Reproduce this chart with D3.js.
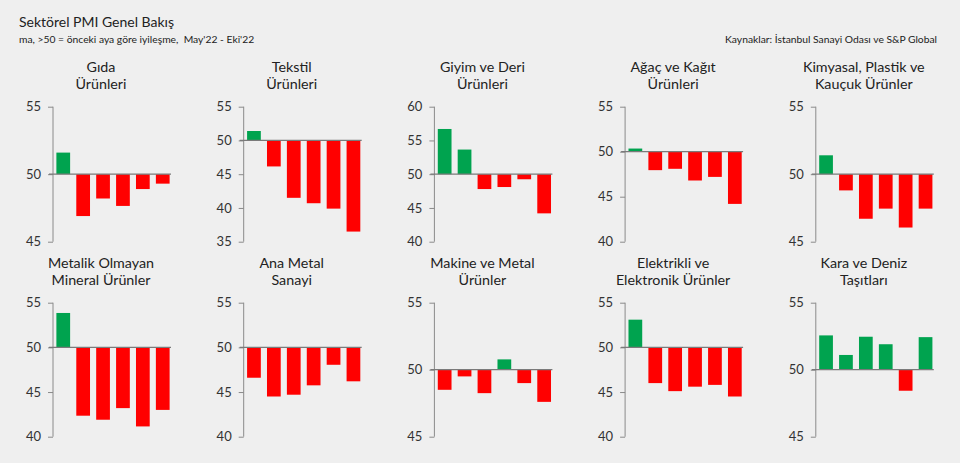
<!DOCTYPE html>
<html><head><meta charset="utf-8">
<script src="https://cdn.jsdelivr.net/npm/d3@7"></script>
<style>
html,body{margin:0;padding:0;background:#efefef;}
svg{display:block;font-family:Lato,"Noto Sans",sans-serif;}
</style></head>
<body><svg id="c" width="960" height="463"></svg>
<script>
const months = ["May'22","Haz'22","Tem'22","Ağu'22","Eyl'22","Eki'22"];
const sectorTitles = [
  ["Gıda","Ürünleri"],
  ["Tekstil","Ürünleri"],
  ["Giyim ve Deri","Ürünleri"],
  ["Ağaç ve Kağıt","Ürünleri"],
  ["Kimyasal, Plastik ve","Kauçuk Ürünler"],
  ["Metalik Olmayan","Mineral Ürünler"],
  ["Ana Metal","Sanayi"],
  ["Makine ve Metal","Ürünler"],
  ["Elektrikli ve","Elektronik Ürünler"],
  ["Kara ve Deniz","Taşıtları"]
];
const gida       = [51.6, 46.9, 48.2, 47.65, 48.9, 49.3];
const tekstil    = [51.4, 46.15, 41.5, 40.7, 39.9, 36.5];
const giyim      = [56.7, 53.65, 47.8, 48.1, 49.25, 44.2];
const agac       = [50.35, 47.95, 48.1, 46.8, 47.2, 44.2];
const kimyasal   = [51.4, 48.8, 46.7, 47.45, 46.05, 47.45];
const metalik    = [53.85, 42.35, 41.9, 43.2, 41.15, 43.0];
const anaMetal   = [46.6, 44.5, 44.7, 45.75, 48.05, 46.2];
const makine     = [48.5, 49.5, 48.25, 50.77, 49.0, 47.6];
const elektrikli = [53.1, 46.0, 45.1, 45.6, 45.8, 44.5];
const kara       = [52.56, 51.1, 52.46, 51.9, 48.43, 52.43];
const seriesList = [gida, tekstil, giyim, agac, kimyasal, metalik, anaMetal, makine, elektrikli, kara];
const yDomains = [[45,55],[35,55],[40,60],[40,55],[45,55],[40,55],[40,55],[45,55],[40,55],[45,55]];
const tickStep = 5;

const svg = d3.select("#c");
const GREEN = "#00a34f", RED = "#ff0000";

svg.append("text").attr("x",19).attr("y",27).attr("font-size",14).attr("fill","#222")
  .text("Sektörel PMI Genel Bakış");
svg.append("text").attr("x",19).attr("y",43).attr("font-size",10.3).attr("fill","#222")
  .attr("xml:space","preserve")
  .text("ma, >50 = önceki aya göre iyileşme,  May'22 - Eki'22");
svg.append("text").attr("x",937).attr("y",43).attr("font-size",10.3).attr("fill","#222")
  .attr("text-anchor","end")
  .text("Kaynaklar: İstanbul Sanayi Odası ve S&P Global");

const axisX0 = 53, colStep = 190.7;
const rows = [{top:106.7,bottom:241.7,title:72},{top:302.7,bottom:436.7,title:267.5}];

seriesList.forEach((vals,i)=>{
  const col = i%5, row = Math.floor(i/5);
  const ax = axisX0 + col*colStep;
  const r = rows[row];
  const y = d3.scaleLinear().domain(yDomains[i]).range([r.bottom, r.top]);
  const x = d3.scaleBand().domain(months).range([ax+1, ax+119]).paddingInner(0.31).paddingOuter(0.12);
  const g = svg.append("g");
  const t = g.append("text").attr("text-anchor","middle").attr("font-size",14.3).attr("fill","#222");
  sectorTitles[i].forEach((line,k)=>{
    t.append("tspan").attr("x",ax+48).attr("y",r.title + k*17.3).text(line);
  });
  const ticks = d3.range(yDomains[i][0], yDomains[i][1]+0.001, tickStep);
  const axis = d3.axisLeft(y).tickValues(ticks).tickSize(5).tickPadding(7).tickFormat(d3.format("d"));
  const ag = g.append("g").attr("transform",`translate(${ax},0)`).call(axis);
  ag.select(".domain").attr("stroke","#8a8a8a").attr("d",`M0,${r.top}V${r.bottom}`);
  ag.selectAll(".tick line").attr("stroke","#8a8a8a");
  ag.selectAll(".tick text").attr("font-size",13).attr("fill","#333").attr("font-family","Lato,'Noto Sans',sans-serif");
  g.selectAll("rect.bar").data(vals).join("rect")
    .attr("x",(d,j)=>x(months[j]))
    .attr("width",x.bandwidth())
    .attr("y",d=>y(Math.max(d,50)))
    .attr("height",d=>Math.abs(y(d)-y(50)))
    .attr("fill",d=>d>=50?GREEN:RED);
  g.append("line").attr("x1",ax-4).attr("x2",ax+118).attr("y1",y(50)).attr("y2",y(50))
    .attr("stroke","#7a7a7a").attr("stroke-width",1.3);
});
</script></body></html>
